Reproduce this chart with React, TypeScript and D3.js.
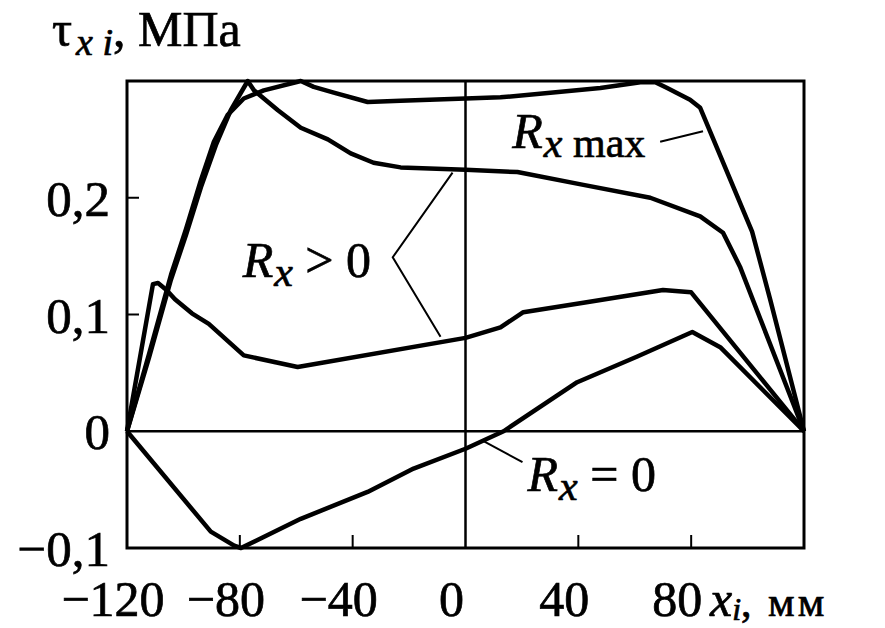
import { useEffect, useRef } from 'react'
import * as d3 from 'd3'

// x positions (mm) and tau values (MPa)
const rMaxX = [-120, -112.2, -104.4, -99.1, -93.8, -89.2, -84.3, -78.6, -71.5, -58.4, -53.8, -46.7, -34.7, -23, 0, 12.4, 30.1, 47.8, 62, 67.3, 71.5, 79.6, 83.2, 101.6, 108, 120]
const rMaxY = [0, 0.066, 0.134, 0.173, 0.215, 0.248, 0.271, 0.285, 0.292, 0.3, 0.295, 0.29, 0.282, 0.283, 0.285, 0.286, 0.29, 0.294, 0.299, 0.299, 0.294, 0.284, 0.277, 0.171, 0.113, 0]

const rPosHighX = [-120, -112.2, -104.4, -99.1, -93.8, -88.5, -83.2, -77.2, -75, -66.5, -58.4, -48.8, -40.7, -32.6, -23, 0, 18.4, 41.8, 65.5, 83.2, 91.3, 97.3, 120]
const rPosHighY = [0, 0.063, 0.13, 0.168, 0.209, 0.245, 0.275, 0.3, 0.292, 0.275, 0.26, 0.25, 0.238, 0.23, 0.226, 0.224, 0.222, 0.211, 0.2, 0.184, 0.17, 0.141, 0]

const rPosLowX = [-120, -110.8, -109, -106, -103, -97, -91, -85.5, -78.6, -59.5, 0, 12.4, 20.5, 41.8, 70, 80, 120]
const rPosLowY = [0, 0.126, 0.127, 0.121, 0.113, 0.101, 0.092, 0.08, 0.065, 0.055, 0.08, 0.089, 0.102, 0.11, 0.121, 0.119, 0]

const rZeroX = [-120, -90.3, -82, -79.6, -58.4, -34.7, -18.4, 0, 13.5, 39.6, 60.9, 80.4, 90.3, 120]
const rZeroY = [0, -0.086, -0.098, -0.1, -0.075, -0.052, -0.032, -0.015, 0, 0.042, 0.064, 0.085, 0.072, 0]

const xTicks = [-120, -80, -40, 0, 40, 80]
const yTicks = [-0.1, 0, 0.1, 0.2]

const W = 885
const H = 628
const FONT = '"Liberation Serif", "DejaVu Serif", serif'

export default function App() {
  const ref = useRef<SVGSVGElement>(null)

  useEffect(() => {
    const svg = d3.select(ref.current)
    svg.selectAll('*').remove()

    const x = d3.scaleLinear().domain([-120, 120]).range([127, 804])
    const y = d3.scaleLinear().domain([-0.1, 0.3]).range([548, 81])

    const ru = d3.formatLocale({ decimal: ',', thousands: ' ', grouping: [3], currency: ['', ''], minus: '\u2212' })
    const fy = ru.format('.1f')
    const fx = ru.format('d')

    const line = d3.line<[number, number]>()
      .x(d => x(d[0]))
      .y(d => y(d[1]))

    // zero lines
    svg.append('line')
      .attr('x1', x(0)).attr('x2', x(0))
      .attr('y1', y(-0.1)).attr('y2', y(0.3))
      .attr('stroke', '#000').attr('stroke-width', 2.5)
    svg.append('line')
      .attr('x1', x(-120)).attr('x2', x(120))
      .attr('y1', y(0)).attr('y2', y(0))
      .attr('stroke', '#000').attr('stroke-width', 2.5)

    // frame
    svg.append('rect')
      .attr('x', x(-120)).attr('y', y(0.3))
      .attr('width', x(120) - x(-120)).attr('height', y(-0.1) - y(0.3))
      .attr('fill', 'none').attr('stroke', '#000').attr('stroke-width', 3)

    // inner ticks
    xTicks.filter(t => t !== -120 && t !== 0).forEach(t => {
      svg.append('line')
        .attr('x1', x(t)).attr('x2', x(t))
        .attr('y1', y(-0.1)).attr('y2', y(-0.1) - 13)
        .attr('stroke', '#000').attr('stroke-width', 2)
    })
    yTicks.filter(t => t > 0).forEach(t => {
      svg.append('line')
        .attr('x1', x(-120)).attr('x2', x(-120) + 12)
        .attr('y1', y(t)).attr('y2', y(t))
        .attr('stroke', '#000').attr('stroke-width', 2)
    })

    const txt = (sel: d3.Selection<any, any, any, any>, size: number) =>
      sel.attr('font-size', size)
        .attr('font-family', FONT)
        .attr('fill', '#000')
        .attr('stroke', '#000')
        .attr('stroke-width', 0.7)

    // tick labels
    txt(svg.append('g'), 50)
      .selectAll('text')
      .data(xTicks)
      .join('text')
      .attr('x', d => x(d) - 14)
      .attr('y', 616)
      .attr('text-anchor', 'middle')
      .text(d => fx(d))

    txt(svg.append('g'), 51)
      .selectAll('text')
      .data(yTicks)
      .join('text')
      .attr('x', 110)
      .attr('y', d => y(d) + 18)
      .attr('text-anchor', 'end')
      .text(d => (d === 0 ? '0' : fy(d)))

    // curves
    const series = [
      d3.zip(rMaxX, rMaxY),
      d3.zip(rPosHighX, rPosHighY),
      d3.zip(rPosLowX, rPosLowY),
      d3.zip(rZeroX, rZeroY),
    ] as [number, number][][]

    series.forEach(data => {
      svg.append('path')
        .datum(data)
        .attr('fill', 'none')
        .attr('stroke', '#000')
        .attr('stroke-width', 4.5)
        .attr('stroke-linejoin', 'round')
        .attr('d', line)
    })

    // leader lines
    const leader = (pts: [number, number][]) => {
      svg.append('path')
        .datum(pts)
        .attr('fill', 'none')
        .attr('stroke', '#000')
        .attr('stroke-width', 2)
        .attr('d', line)
    }
    leader([[-4.6, 0.2215], [-25.8, 0.149], [-8.85, 0.081]])
    leader([[69, 0.248], [84.2, 0.257]])
    leader([[20.2, -0.0265], [6.4, -0.0085]])

    // labels with subscripts
    const label = (px: number, py: number, sub: string, rest: string) => {
      const t = txt(svg.append('text'), 50)
        .attr('x', x(px)).attr('y', y(py))
      t.append('tspan').attr('font-style', 'italic').text('R')
      t.append('tspan').attr('font-style', 'italic').attr('font-size', 42).attr('dy', 9).attr('dx', 1).text('x')
      if (sub) t.append('tspan').attr('font-size', 42).text(sub)
      if (rest) t.append('tspan').attr('dy', -9).text(rest)
    }
    label(-79, 0.132, '', ' > 0')
    label(16.6, 0.243, ' max', '')
    label(22, -0.051, '', ' = 0')

    // axis titles
    const ty = txt(svg.append('text'), 50)
      .attr('x', 52).attr('y', 46)
    ty.append('tspan').text('τ')
    ty.append('tspan').attr('font-style', 'italic').attr('font-size', 38).attr('dy', 9).attr('dx', 4).text('x i')
    ty.append('tspan').attr('dy', -9).text(', МПа')

    const tx = txt(svg.append('text'), 50)
      .attr('x', 710).attr('y', 616)
    tx.append('tspan').attr('font-style', 'italic').text('x')
    tx.append('tspan').attr('font-style', 'italic').attr('dy', 4).attr('font-size', 32).text('i')
    tx.append('tspan').attr('dy', -4).attr('font-size', 42).attr('letter-spacing', 3).text(', мм')
  }, [])

  return (
    <div style={{ position: 'absolute', left: 0, top: 0 }}>
      <svg ref={ref} width={W} height={H} style={{ display: 'block', background: '#fff' }} />
    </div>
  )
}
